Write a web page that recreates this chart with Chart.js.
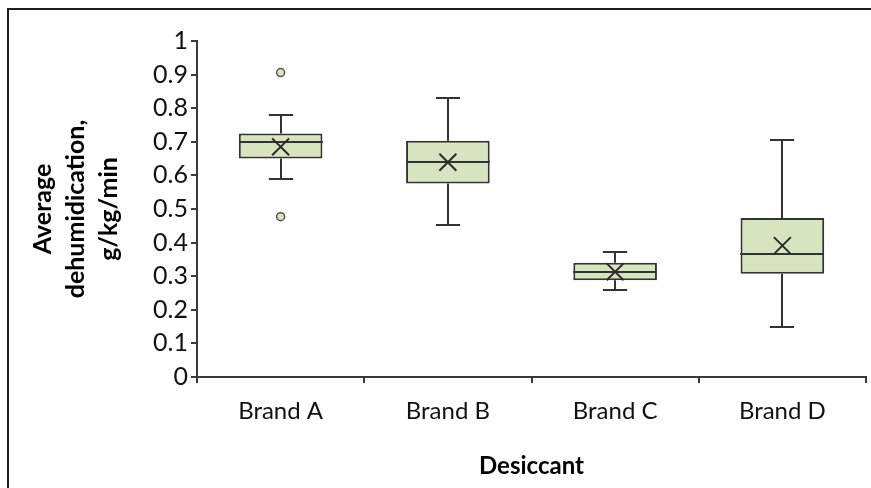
<!DOCTYPE html>
<html>
<head>
<meta charset="utf-8">
<script src="https://cdn.jsdelivr.net/npm/chart.js@4.4.1/dist/chart.umd.min.js"></script>
<style>
  html, body { margin: 0; padding: 0; background: #ffffff; overflow: hidden; width: 871px; height: 488px; }
  #frame { position: absolute; left: 7px; top: 8px; width: 862px; height: 478px;
           border-left: 2px solid #1e1e1e; border-top: 2px solid #1e1e1e; }
  #c { position: absolute; left: 0; top: 0; }
</style>
</head>
<body>
<div id="frame"></div>
<canvas id="c" width="871" height="488" style="width:871px;height:488px"></canvas>
<script>
// ---- data ----
const categories   = ['Brand A', 'Brand B', 'Brand C', 'Brand D'];
const whiskerLow   = [0.590, 0.451, 0.259, 0.150];
const quartile1    = [0.650, 0.576, 0.288, 0.307];
const medians      = [0.698, 0.641, 0.312, 0.366];
const quartile3    = [0.725, 0.703, 0.340, 0.473];
const whiskerHigh  = [0.779, 0.830, 0.373, 0.705];
const means        = [0.685, 0.639, 0.313, 0.391];
const outlierCats  = ['Brand A', 'Brand A'];
const outlierVals  = [0.906, 0.477];
const yTickLabels  = ['0', '0.1', '0.2', '0.3', '0.4', '0.5', '0.6', '0.7', '0.8', '0.9', '1'];
const xTitle       = 'Desiccant';
const yTitle       = ['Average', 'dehumidication,', 'g/kg/min'];

const FILL = '#d7e4bd';
const LINE = '#333333';
const FONT = 'Lato, "Open Sans", sans-serif';

const boxPlugin = {
  id: 'boxWhiskers',
  afterDatasetDraw(chart, args) {
    if (args.index !== 0) return;
    const ctx = chart.ctx;
    const y = chart.scales.y;
    ctx.save();
    ctx.strokeStyle = LINE;
    ctx.lineWidth = 2;
    args.meta.data.forEach((bar, i) => {
      const x = Math.round(bar.x);
      const half = bar.width / 2;
      const cap = bar.width * 0.145;
      const pMed = Math.round(y.getPixelForValue(medians[i]));
      const pQ1 = y.getPixelForValue(quartile1[i]);
      const pQ3 = y.getPixelForValue(quartile3[i]);
      const pLo = Math.round(y.getPixelForValue(whiskerLow[i]));
      const pHi = Math.round(y.getPixelForValue(whiskerHigh[i]));
      ctx.beginPath();
      ctx.moveTo(x - half, pMed); ctx.lineTo(x + half, pMed);
      ctx.moveTo(x, pQ3); ctx.lineTo(x, pHi);
      ctx.moveTo(x - cap, pHi); ctx.lineTo(x + cap, pHi);
      ctx.moveTo(x, pQ1); ctx.lineTo(x, pLo);
      ctx.moveTo(x - cap, pLo); ctx.lineTo(x + cap, pLo);
      ctx.stroke();
    });
    ctx.restore();
  }
};

new Chart(document.getElementById('c'), {
  type: 'bar',
  data: {
    labels: categories,
    datasets: [
      {
        label: 'IQR',
        data: categories.map((_, i) => [quartile1[i], quartile3[i]]),
        backgroundColor: FILL,
        borderColor: LINE,
        borderWidth: 2,
        borderSkipped: false,
        categoryPercentage: 1,
        barPercentage: 0.5,
        order: 3
      },
      {
        type: 'line',
        label: 'Mean',
        data: means,
        showLine: false,
        pointStyle: 'crossRot',
        pointRadius: 12,
        pointBorderColor: '#2b2b2b',
        pointBorderWidth: 2,
        order: 1
      },
      {
        type: 'line',
        label: 'Outliers',
        data: outlierCats.map((c, i) => ({ x: c, y: outlierVals[i] })),
        showLine: false,
        pointStyle: 'circle',
        pointRadius: 4,
        pointBackgroundColor: FILL,
        pointBorderColor: '#555555',
        pointBorderWidth: 1.5,
        order: 1
      }
    ]
  },
  options: {
    responsive: false,
    animation: false,
    events: [],
    layout: { autoPadding: false, padding: { left: 0, right: 5, top: 41, bottom: 0 } },
    plugins: { legend: { display: false }, tooltip: { enabled: false } },
    scales: {
      x: {
        afterFit(scale) { scale.height = 111; scale.paddingLeft = 0; scale.paddingRight = 0; },
        grid: { offset: true, drawOnChartArea: false, tickLength: 6, color: '#3a3a3a', lineWidth: 2 },
        border: { color: '#3a3a3a', width: 2 },
        ticks: { color: '#111111', padding: 14, font: { family: FONT, size: 24 } },
        title: {
          display: true, text: xTitle, color: '#000000',
          font: { family: FONT, size: 24, weight: 'bold' },
          padding: { top: 0, bottom: 7 }
        }
      },
      y: {
        min: 0, max: 1,
        afterFit(scale) { scale.width = 197; },
        grid: { drawOnChartArea: false, tickLength: 6, color: '#3a3a3a', lineWidth: 2 },
        border: { color: '#3a3a3a', width: 2 },
        ticks: {
          stepSize: 0.1, color: '#111111', padding: 3,
          font: { family: FONT, size: 25 },
          callback: (v, i) => yTickLabels[i]
        },
        title: {
          display: true, text: yTitle, color: '#000000',
          font: { family: FONT, size: 25, weight: 'bold', lineHeight: 1.32 },
          padding: { top: 26, bottom: 0 }
        }
      }
    }
  },
  plugins: [boxPlugin]
});
</script>
</body>
</html>
